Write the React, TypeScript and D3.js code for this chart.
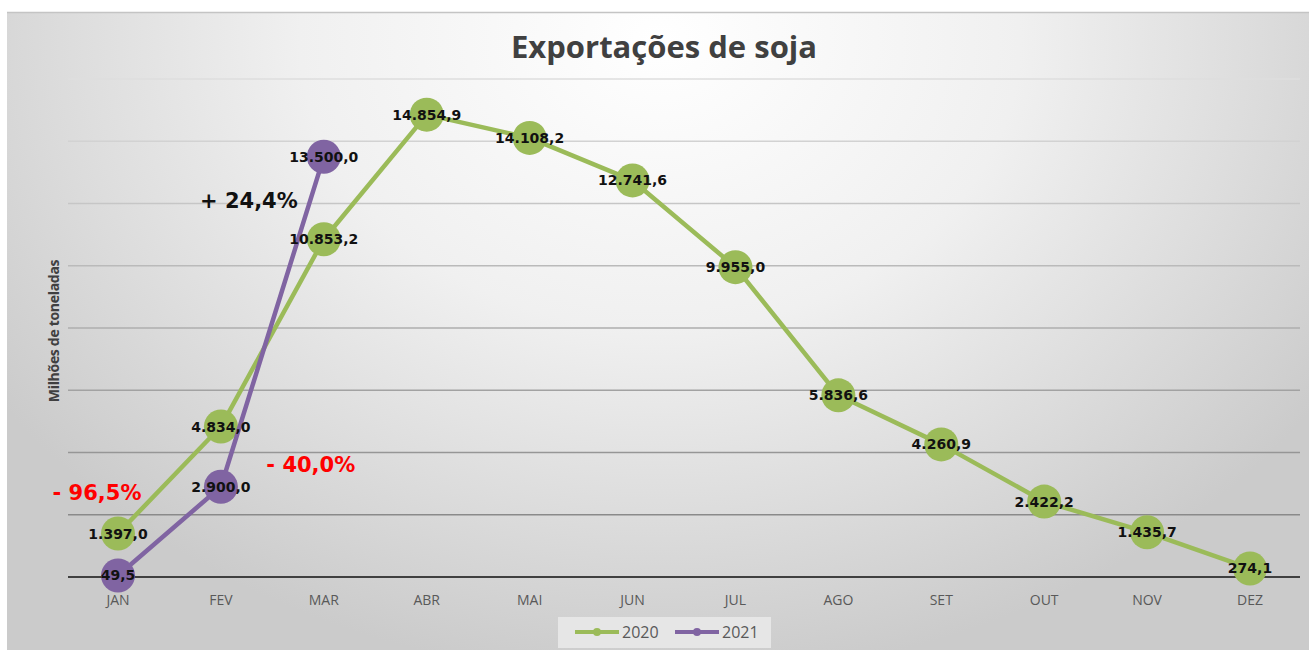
import React from "react";
import * as d3 from "d3";

const months = ["JAN", "FEV", "MAR", "ABR", "MAI", "JUN", "JUL", "AGO", "SET", "OUT", "NOV", "DEZ"];
const values2020 = [1397.0, 4834.0, 10853.2, 14854.9, 14108.2, 12741.6, 9955.0, 5836.6, 4260.9, 2422.2, 1435.7, 274.1];
const values2021 = [49.5, 2900.0, 13500.0];
const yTicks = [0, 2000, 4000, 6000, 8000, 10000, 12000, 14000, 16000];
const annotations = [
  { text: "+ 24,4%", month: "FEV", value: 11850, color: "#111111", dx: 28 },
  { text: "- 96,5%", month: "JAN", value: 2480, color: "#ff0000", dx: -21 },
  { text: "- 40,0%", month: "MAR", value: 3370, color: "#ff0000", dx: -13 },
];

const fmt = (v: number) => {
  const s = v.toFixed(1);
  const [i, d] = s.split(".");
  return i.replace(/\B(?=(\d{3})+(?!\d))/g, ".") + "," + d;
};

const W = 1309;
const H = 650;
const GREEN = "#9bbb59";
const PURPLE = "#8064a2";

export default function App() {
  const x = d3.scalePoint<string>().domain(months).range([118, 1250]);
  const y = d3.scaleLinear().domain([0, 16000]).range([577, 79]);
  const line = d3
    .line<number>()
    .x((_, i) => x(months[i]) as number)
    .y((d) => y(d));
  const gridColor = d3.interpolateRgb("#8a8a8a", "#dedede");

  const series = [
    { name: "2020", values: values2020, color: GREEN },
    { name: "2021", values: values2021, color: PURPLE },
  ];

  return (
    <svg
      width={W}
      height={H}
      style={{ position: "absolute", left: 0, top: 0 }}
      fontFamily="'Open Sans', sans-serif"
    >
      <defs>
        <radialGradient
          id="bg"
          cx="660"
          cy="40"
          r="800"
          gradientUnits="userSpaceOnUse"
          gradientTransform="translate(660 40) scale(1 0.8) translate(-660 -40)"
        >
          <stop offset="0" stopColor="#ffffff" />
          <stop offset="0.45" stopColor="#f0f0f0" />
          <stop offset="0.75" stopColor="#dcdcdc" />
          <stop offset="1" stopColor="#cbcbcb" />
        </radialGradient>
      </defs>
      <rect x={0} y={0} width={W} height={H} fill="#ffffff" />
      <rect x={7} y={12} width={W - 7} height={H - 12} fill="url(#bg)" />
      <line x1={7} x2={W} y1={12.5} y2={12.5} stroke="#c4c4c4" strokeWidth={1.5} />

      <text x={664} y={58} textAnchor="middle" fontSize={31} fontWeight="bold" fill="#404040">
        Exportações de soja
      </text>

      {yTicks.slice(1).map((t, i) => (
        <line
          key={t}
          x1={68}
          x2={1300}
          y1={y(t)}
          y2={y(t)}
          stroke={gridColor(i / (yTicks.length - 2))}
          strokeWidth={1.5}
        />
      ))}
      <line x1={68} x2={1300} y1={y(0)} y2={y(0)} stroke="#404040" strokeWidth={2} />

      <text
        transform={`translate(59, ${331}) rotate(-90)`}
        textAnchor="middle"
        fontSize={14}
        fontWeight="bold"
        fill="#404040"
        style={{ letterSpacing: "-0.3px" }}
      >
        Milhões de toneladas
      </text>

      {months.map((m) => (
        <text key={m} x={x(m)} y={605} textAnchor="middle" fontSize={14} fill="#595959">
          {m}
        </text>
      ))}

      {series.map((s) => (
        <g key={s.name}>
          <path d={line(s.values) || ""} fill="none" stroke={s.color} strokeWidth={4.5} strokeLinejoin="round" />
          {s.values.map((v, i) => (
            <circle key={i} cx={x(months[i])} cy={y(v)} r={17} fill={s.color} />
          ))}
        </g>
      ))}
      {series.map((s) => (
        <g key={s.name + "l"}>
          {s.values.map((v, i) => (
            <text
              key={i}
              x={x(months[i])}
              y={y(v) + 5}
              textAnchor="middle"
              fontFamily="'DejaVu Sans', sans-serif"
              fontWeight="bold"
              fontSize={14}
              fill="#111111"
            >
              {fmt(v)}
            </text>
          ))}
        </g>
      ))}

      {annotations.map((a) => (
        <text
          key={a.text}
          x={(x(a.month) as number) + a.dx}
          y={y(a.value)}
          textAnchor="middle"
          fontFamily="'DejaVu Sans', sans-serif"
          fontWeight="bold"
          fontSize={21}
          fill={a.color}
        >
          {a.text}
        </text>
      ))}

      <g>
        <rect x={558} y={617} width={213} height={31} fill="#e6e6e6" />
        {series.map((s, i) => {
          const lx = 575 + i * 100;
          return (
            <g key={s.name}>
              <line x1={lx} x2={lx + 44} y1={632} y2={632} stroke={s.color} strokeWidth={4} />
              <circle cx={lx + 22} cy={632} r={4} fill={s.color} />
              <text x={lx + 47} y={638} fontSize={16} fill="#595959">
                {s.name}
              </text>
            </g>
          );
        })}
      </g>
    </svg>
  );
}
